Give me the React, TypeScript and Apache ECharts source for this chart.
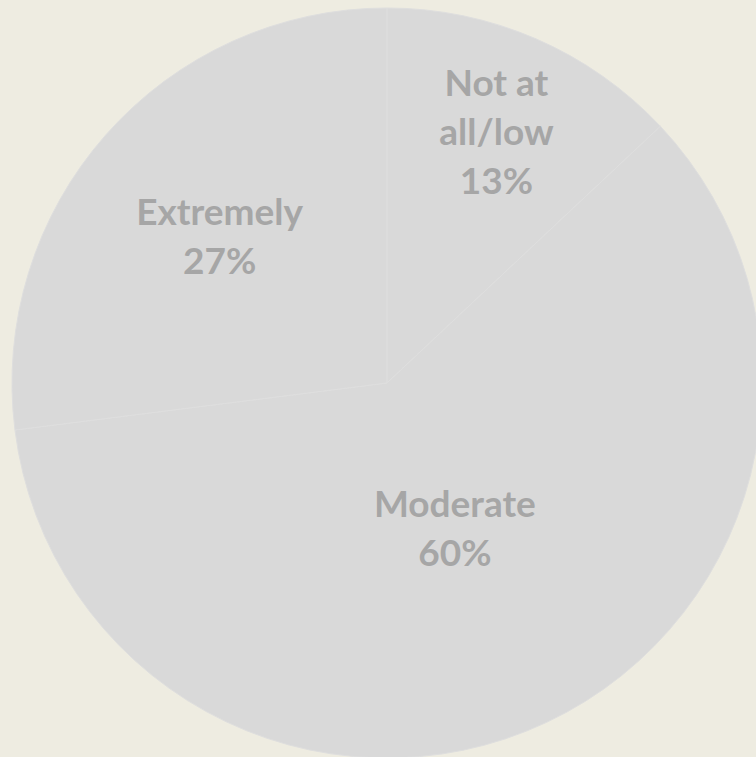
import React, { useEffect, useRef } from "react";
import * as echarts from "echarts";

const categories = ["Not at all/low", "Moderate", "Extremely"];
const labelLines = ["Not at\nall/low", "Moderate", "Extremely"];
const values = [13, 60, 27];
// label distance from centre as a fraction of radius (Excel's best-fit placement)
const labelRadiusFrac = [0.735, 0.425, 0.595];

export default function App() {
  const ref = useRef<HTMLDivElement>(null);
  useEffect(() => {
    if (!ref.current) return;
    const chart = echarts.init(ref.current, null, { renderer: "svg" });
    const cx = 387;
    const cy = 383;
    const R = 375;
    const total = values.reduce((a, b) => a + b, 0);
    const midAngles: number[] = [];
    let acc = 0;
    values.forEach((v) => {
      midAngles.push(((acc + v / 2) / total) * Math.PI * 2);
      acc += v;
    });
    chart.setOption({
      animation: false,
      backgroundColor: "#EEECE1",
      series: [
        {
          type: "pie",
          center: [cx, cy],
          radius: [0, R],
          startAngle: 90,
          clockwise: true,
          silent: true,
          itemStyle: { color: "#D9D9D9", borderColor: "#DEDEDE", borderWidth: 1 },
          label: {
            show: true,
            position: "inside",
            color: "#A6A6A6",
            fontFamily: "Lato, 'Open Sans', sans-serif",
            fontWeight: "bold",
            fontSize: 37,
            lineHeight: 49,
            align: "center",
            formatter: (p: any) => labelLines[p.dataIndex] + "\n" + Math.round(p.percent) + "%",
          },
          labelLine: { show: false },
          labelLayout: (p: any) => {
            const i = p.dataIndex;
            const a = midAngles[i];
            const r = R * labelRadiusFrac[i];
            return { x: cx + r * Math.sin(a), y: cy - r * Math.cos(a), align: "center", verticalAlign: "middle" };
          },
          data: categories.map((c, i) => ({ name: c, value: values[i] })),
        },
      ],
    });
    return () => chart.dispose();
  }, []);
  return (
    <div
      ref={ref}
      style={{ position: "absolute", left: 0, top: 0, width: 756, height: 757 }}
    />
  );
}
